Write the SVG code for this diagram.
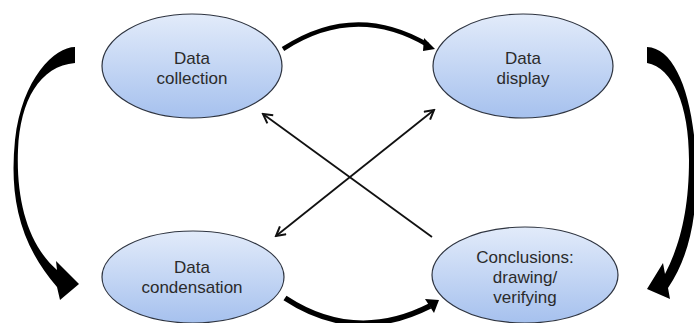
<svg xmlns="http://www.w3.org/2000/svg" width="694" height="323" viewBox="0 0 694 323">
<defs>
<linearGradient id="g" x1="0" y1="0" x2="0" y2="1">
<stop offset="0" stop-color="#e2ebfa"/>
<stop offset="1" stop-color="#a6c1ee"/>
</linearGradient>
<marker id="ah" viewBox="0 0 12 12" refX="10" refY="6" markerWidth="12" markerHeight="12" markerUnits="userSpaceOnUse" orient="auto-start-reverse">
<path d="M1,1 L10,6 L1,11" fill="none" stroke="#111" stroke-width="2"/>
</marker>
</defs>
<style>
.node ellipse{fill:url(#g);stroke:#2e3440;stroke-width:1.2}
.node text{font-family:"Liberation Sans",Arial,sans-serif;font-size:17px;fill:#2b2b2b;text-anchor:middle}
.thin{fill:none;stroke:#111;stroke-width:1.8}
.thick{fill:#000}
.arc{fill:none;stroke:#000}
</style>
<rect width="694" height="323" fill="#fff"/>
<g id="connectors">
<path class="thick" d="M75,47 C55,47 22,78 15,140 C10,190 16,240 57,287 L60,300 L79,284 L56,261 L57,270 C28,245 16,200 18,150 C20,100 40,66 75,63 Z"/>
<path class="thick" d="M647,47 C675,48 693,95 696,160 C698,215 690,255 668,288 L670,299 L647,289 L663,263 L665,274 C680,245 689,210 689,160 C689,105 673,68 647,63 Z"/>
<path class="arc" stroke-width="4.5" d="M283,49 Q355,2 428,45"/>
<path class="thick" d="M424,38 L435,49 L423,51 Z"/>
<path class="arc" stroke-width="5.5" d="M285,298 Q355,344 430,306"/>
<path class="thick" d="M425,299 L439,300 L434,313 Z"/>
<line class="thin" x1="432" y1="237" x2="263" y2="114" marker-end="url(#ah)"/>
<line class="thin" x1="276" y1="236" x2="434" y2="110" marker-start="url(#ah)" marker-end="url(#ah)"/>
</g>
<g id="collection" class="node">
<ellipse cx="192" cy="66" rx="90" ry="52"/>
<text x="192" y="64">Data</text>
<text x="192" y="84">collection</text>
</g>
<g id="display" class="node">
<ellipse cx="523" cy="66" rx="90" ry="52"/>
<text x="523" y="64">Data</text>
<text x="523" y="84">display</text>
</g>
<g id="condensation" class="node">
<ellipse cx="193" cy="277" rx="91" ry="46"/>
<text x="192" y="273">Data</text>
<text x="192" y="293">condensation</text>
</g>
<g id="conclusions" class="node">
<ellipse cx="525" cy="275" rx="93" ry="48"/>
<text x="525" y="263">Conclusions:</text>
<text x="525" y="283">drawing/</text>
<text x="525" y="303">verifying</text>
</g>
</svg>
